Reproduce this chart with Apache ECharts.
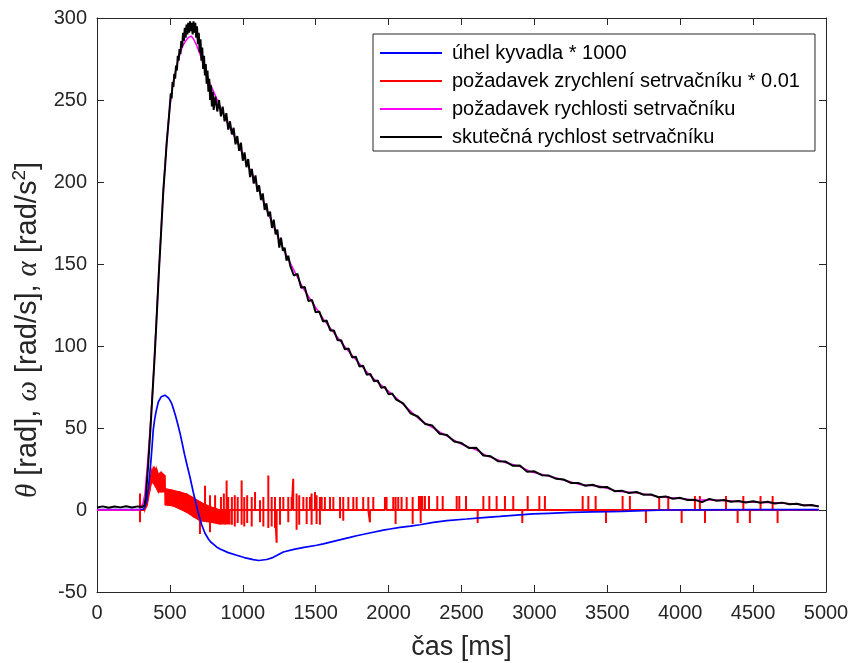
<!DOCTYPE html>
<html>
<head>
<meta charset="utf-8">
<script src="https://cdn.jsdelivr.net/npm/echarts@6/dist/echarts.min.js"></script>
<style>
  html, body { margin: 0; padding: 0; background: #ffffff; }
  #chart { width: 852px; height: 663px; }
</style>
</head>
<body>
<div id="chart"></div>
<script>
// Axis ranges and tick spacing
const xRange = [0, 5000, 500];
const yRange = [-50, 300, 50];

// Legend labels
const seriesNames = [
  'úhel kyvadla * 1000',
  'požadavek zrychlení setrvačníku * 0.01',
  'požadavek rychlosti setrvačníku',
  'skutečná rychlost setrvačníku'
];

// Pendulum angle * 1000, [time ms, value]
const pendulumAngle = [[0,0.3],[300,0.3],[320,0.5],[329,1],[340,5],[352,13],[362,22],[370,30],[378,39],[386,49],[395,55],[405,60],[421,66],[440,69],[452,70],[466,70],[478,69.5],[490,68.3],[500,67],[512,65],[525,61.5],[540,57],[555,52],[569,47],[585,40.5],[600,34],[620,26.5],[638,20],[660,11],[683,2.5],[700,-3.5],[718,-9],[740,-14],[764,-17.7],[780,-19.5],[800,-21],[820,-22.5],[844,-23.8],[900,-26],[958,-27.6],[1010,-29],[1072,-30.3],[1110,-30.8],[1164,-30.2],[1200,-29.2],[1232,-27.8],[1278,-25.6],[1350,-24],[1420,-22.8],[1507,-21.5],[1552,-20.7],[1650,-18.5],[1735,-16.7],[1781,-15.7],[1870,-14],[1964,-12.3],[2010,-11.6],[2078,-10.6],[2150,-9.8],[2215,-9],[2307,-7.5],[2400,-6.5],[2536,-5.5],[2650,-4.6],[2764,-3.9],[2900,-3],[2990,-2.4],[3100,-2],[3250,-1.5],[3400,-1.1],[3519,-1],[3600,-0.8],[3745,-0.4],[3907,0],[4100,0.1],[4500,0.2],[4950,0.2]];

// Requested flywheel speed
const speedRequest = [[0,0],[290,0],[300,1],[315,4],[329,10],[350,32],[370,57],[386,80],[400,103],[420,138],[444,178],[466,210],[480,226],[490,237],[500,246],[512,254],[524,261],[535,266],[550,272],[569,278],[585,282.5],[604,285.5],[625,288],[645,289],[660,287.5],[680,284],[706,278],[740,269],[775,260],[810,253],[844,246],[900,235],[958,225],[1003,216],[1070,204],[1164,183],[1278,159],[1415,135],[1552,116.5],[1713,98],[1872,82],[2044,69],[2215,55],[2353,47.5],[2490,40.5],[2604,36.5],[2673,33],[2800,29],[2901,26.5],[2970,23.5],[3130,20],[3313,15.5],[3450,14.5],[3564,11.5],[3701,10.5],[3861,8],[3999,7],[4113,6],[4204,6.3],[4431,5],[4684,4.3],[4950,2.5]];

// Measured flywheel speed
const speedActual = [[0,1.5],[40,2.2],[80,1.4],[120,2.1],[160,1.6],[200,2.3],[240,1.5],[280,2.2],[310,1.8],[325,3],[335,8],[350,26],[365,47],[380,70],[395,93],[410,119],[425,146],[440,170],[455,195],[466,208],[478,224],[490,236],[500,247],[506,254],[512,251],[518,261],[524,258],[530,266],[536,263],[542,271],[548,268],[554,277],[560,274],[566,281],[572,278],[578,286],[584,282],[590,291],[596,286],[602,294],[608,288],[614,296],[620,290],[626,297],[632,291],[638,298],[644,292],[650,297],[656,290],[662,298],[668,291],[674,297],[680,288],[686,295],[692,284],[698,291],[704,279],[710,287],[716,274],[722,282],[728,269],[734,277],[740,265],[746,272],[752,260],[758,268],[764,255],[770,263],[776,250],[782,259],[788,246],[794,255],[800,244],[812,252],[825,243],[837,250],[850,240],[862,246],[875,237],[887,242],[900,232],[912,237],[925,229],[937,233],[950,223],[962,228],[975,219],[987,224],[1000,213],[1012,218],[1025,209],[1037,214],[1050,203],[1062,208],[1075,199],[1087,204],[1100,194],[1112,198],[1125,189],[1137,193],[1150,183],[1162,187],[1175,179],[1187,182],[1200,172],[1212,177],[1225,168],[1237,171],[1250,160],[1262,166],[1275,158],[1287,160],[1300,152],[1312,155],[1325,149],[1337,150],[1350,143],[1375,144],[1400,135.5],[1425,136],[1450,127.5],[1475,128],[1500,120.5],[1525,121],[1550,115],[1575,115.5],[1600,109.5],[1625,109.5],[1650,103.5],[1675,103.5],[1700,98],[1725,98.5],[1750,93],[1775,93.5],[1800,87.5],[1825,88],[1850,82.5],[1875,83],[1900,78.5],[1925,79],[1950,74.5],[1975,75],[2000,70.5],[2025,71],[2050,67.5],[2100,65],[2150,59],[2200,57],[2250,52.5],[2300,51.5],[2350,46.5],[2400,45.8],[2450,41.8],[2500,40.8],[2550,37.8],[2600,38],[2650,33.2],[2700,32.8],[2750,29.8],[2800,29.6],[2850,27],[2900,27.2],[2950,23.3],[3000,23.6],[3050,21.2],[3100,21],[3150,19],[3200,18.6],[3250,16.5],[3300,16.5],[3350,14.8],[3400,15.4],[3450,13.8],[3500,14],[3550,11.5],[3600,11.8],[3650,10.3],[3700,11],[3750,9.3],[3800,9.5],[3850,7.8],[3900,8.3],[3950,6.9],[4000,7.4],[4050,6.1],[4100,6.2],[4150,4.8],[4200,6.8],[4250,5.6],[4300,6.1],[4350,5],[4400,5.5],[4450,4.6],[4500,5.3],[4550,4.4],[4600,5],[4650,4],[4700,4.5],[4750,3.5],[4800,3.8],[4850,2.8],[4900,3],[4950,2.2]];

// Acceleration request * 0.01: dense switching band (upper and lower envelope)
const accelBandTime   = [329, 345, 363, 375, 390, 409, 420, 440, 466, 468, 520, 570, 615, 660, 706, 750, 780, 844, 880, 912];
const accelBandTop    = [0, 10, 19, 24, 26, 25, 22, 23, 21, 13, 12, 11, 9.8, 7.5, 5, 3, 2, 0, 0, 0];
const accelBandBottom = [0, 3, 12, 17, 16, 13, 11, 11, 11, 3, 2.5, 0.5, -1.4, -4, -6.5, -7, -7.5, -8.5, -8.5, -8.5];

// Acceleration request * 0.01: isolated pulses [time ms, peak up, peak down]
const accelPulsesEarly = [[295, 10, -7.5]];
const accelPulsesLate = [
  [706,0,-14.6],[741,14.8,0],[775,9,-13.6],[810,9,0],[850,8,0],[870,10,0],[889,18,0],[900,8,0],
  [925,8,-9],[945,9,-10],[965,8,-8],[992,18,-9],[1010,8,-10],[1030,9,-8],
  [1061,8,-10],[1084,11,0],[1118,6,-7.5],[1141,8,-10],[1175,21,-11],[1198,8,-10],[1221,8,-11],[1232,0,-20],
  [1255,8,-9],[1278,8,0],[1312,8,-7.5],[1335,8,0],[1346,19,0],[1369,10,-12],[1387,9,-9],[1415,8,0],
  [1438,8,-8.5],[1461,8,0],[1472,10,-9],[1495,11,0],[1506,9,-8.5],[1529,8,-9],[1541,8,0],[1563,8,0],
  [1598,8,0],[1621,8,0],[1667,8,-5],[1689,8,-6.5],[1724,8,0],[1758,8,0],[1781,8,0],[1826,8,0],
  [1861,8,0],[1872,0,-7.5],[1895,8,0],[1975,8,0],[1986,8,0],[2032,8,0],[2048,8,-8.5],[2066,8,0],
  [2089,8,0],[2124,8,0],[2165,8,-8.5],[2208,8.5,0],[2220,8.5,-8],[2231,8.5,0],[2249,8.5,0],[2277,8.5,0],
  [2334,8.5,0],[2371,8.5,0],[2467,8.5,0],[2485,8.5,0],[2531,8.5,0],[2611,0,-8],[2650,8.5,0],[2691,8.5,0],
  [2741,8.5,0],[2798,8.5,0],[2855,8.5,0],[2917,0,-8],[2954,8.5,0],[3034,8.5,0],[3072,8.5,0],[3331,8.5,0],
  [3370,8.5,0],[3420,8.5,0],[3491,0,-8],[3605,8.5,0],[3655,8.5,0],[3765,0,-8],[3856,8.5,0],[3918,8.5,0],
  [4010,0,-8],[4101,8.5,0],[4135,8.5,0],[4170,0,-8],[4314,8.5,0],[4394,0,-8],[4433,8.5,0],[4478,0,-8],
  [4551,8.5,0],[4634,8.5,0],[4668,0,-8]
];

// Turn a list of pulses into a line that sits on zero between them
function pulseTrace(pulses, start, end) {
  const pts = [[start, 0]];
  pulses.forEach(([t, up, down]) => {
    pts.push([t, 0]);
    if (up) pts.push([t, up]);
    if (down) pts.push([t, down]);
    pts.push([t, 0]);
  });
  pts.push([end, 0]);
  return pts;
}

const accelTrace = pulseTrace(accelPulsesEarly, 0, 329)
  .concat([[500, null]])
  .concat(pulseTrace(accelPulsesLate, 690, 4950));

// One quad per pair of neighbouring envelope samples
const accelBandQuads = accelBandTime.slice(0, -1).map((t, i) => [
  t, accelBandTop[i], accelBandBottom[i],
  accelBandTime[i + 1], accelBandTop[i + 1], accelBandBottom[i + 1]
]);

const axisColor = '#262626';
const fontFamily = '"Liberation Sans", Arial, Helvetica, sans-serif';

function frameAxis(extra) {
  return Object.assign({
    type: 'value',
    axisLine: { show: true, onZero: false, lineStyle: { color: axisColor, width: 1 } },
    axisTick: { show: true, inside: true, length: 7, lineStyle: { color: axisColor, width: 1 } },
    splitLine: { show: false },
    axisLabel: { show: false }
  }, extra);
}

const tickLabel = (margin) => ({
  show: true, fontSize: 20, color: axisColor, margin: margin, fontFamily: fontFamily,
  formatter: (v) => String(v)
});

const chart = echarts.init(document.getElementById('chart'), null, { renderer: 'canvas' });

chart.setOption({
  animation: false,
  backgroundColor: '#ffffff',
  textStyle: { fontFamily: fontFamily },
  grid: { left: 97, right: 26, top: 18, bottom: 71, containLabel: false, outerBoundsMode: 'none' },
  legend: {
    orient: 'vertical',
    left: 373,
    top: 34,
    data: seriesNames,
    icon: 'rect',
    itemWidth: 62,
    itemHeight: 2,
    itemGap: 8,
    selectedMode: false,
    padding: [9, 15, 4, 7],
    borderColor: axisColor,
    borderWidth: 1,
    backgroundColor: '#ffffff',
    textStyle: { fontSize: 20, color: '#000000', fontFamily: fontFamily, padding: [0, 0, 0, 5] }
  },
  xAxis: [
    frameAxis({
      min: xRange[0], max: xRange[1], interval: xRange[2], position: 'bottom',
      axisLabel: tickLabel(11),
      name: 'čas [ms]', nameLocation: 'middle', nameGap: 42,
      nameTextStyle: { fontSize: 27, color: axisColor, fontFamily: fontFamily }
    }),
    frameAxis({ min: xRange[0], max: xRange[1], interval: xRange[2], position: 'top' })
  ],
  yAxis: [
    frameAxis({
      min: yRange[0], max: yRange[1], interval: yRange[2], position: 'left',
      axisLabel: tickLabel(10),
      name: '{g|θ} [rad], {g|ω} [rad/s], {g|α} [rad/s{sup|2}]',
      nameLocation: 'middle', nameGap: 44, nameRotate: 90,
      nameTextStyle: {
        fontSize: 29, color: axisColor, fontFamily: fontFamily,
        padding: [0, 50, 0, 0],
        rich: {
          g: { fontSize: 29, fontStyle: 'italic', fontFamily: '"Liberation Serif", "DejaVu Serif", serif', color: axisColor },
          sup: { fontSize: 19, color: axisColor, fontFamily: fontFamily, padding: [0, 0, 16, 0] }
        }
      }
    }),
    frameAxis({ min: yRange[0], max: yRange[1], interval: yRange[2], position: 'right' })
  ],
  series: [
    {
      name: seriesNames[1], type: 'line', data: accelTrace,
      symbol: 'none', silent: true, z: 3,
      lineStyle: { color: '#ff0000', width: 2 }, itemStyle: { color: '#ff0000' }
    },
    {
      name: seriesNames[1], type: 'custom', data: accelBandQuads, silent: true, z: 2,
      itemStyle: { color: '#ff0000' },
      encode: { x: [0, 3], y: [1, 2, 4, 5] },
      renderItem: (params, api) => {
        const a = api.coord([api.value(0), api.value(1)]);
        const b = api.coord([api.value(3), api.value(4)]);
        const c = api.coord([api.value(3), api.value(5)]);
        const d = api.coord([api.value(0), api.value(2)]);
        return {
          type: 'polygon',
          shape: { points: [a, b, c, d] },
          style: { fill: '#ff0000', stroke: '#ff0000', lineWidth: 1.2 }
        };
      }
    },
    {
      name: seriesNames[0], type: 'line', data: pendulumAngle,
      symbol: 'none', silent: true, z: 4,
      lineStyle: { color: '#0000ff', width: 1.7 }, itemStyle: { color: '#0000ff' }
    },
    {
      name: seriesNames[2], type: 'line', data: speedRequest,
      symbol: 'none', silent: true, z: 5,
      lineStyle: { color: '#ff00ff', width: 1.5 }, itemStyle: { color: '#ff00ff' }
    },
    {
      name: seriesNames[3], type: 'line', data: speedActual,
      symbol: 'none', silent: true, z: 6,
      lineStyle: { color: '#000000', width: 2 }, itemStyle: { color: '#000000' }
    }
  ]
});
</script>
</body>
</html>
